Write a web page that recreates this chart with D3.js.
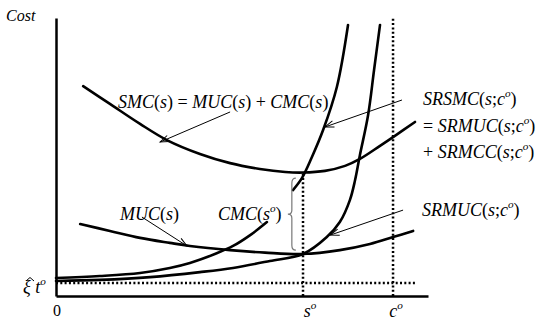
<!DOCTYPE html>
<html>
<head>
<meta charset="utf-8">
<script src="https://cdn.jsdelivr.net/npm/d3@7"></script>
<style>
  body { margin: 0; background: #fff; }
  svg { display: block; }
</style>
</head>
<body>
<svg id="chart" width="539" height="321"></svg>
<script>
// curves (x: output s, y: cost; both 0..100)
var smc = [[7.3, 75.5], [14.5, 69.1], [22.6, 61.9], [29.8, 56.1], [38.7, 51.1], [46.8, 47.8],
  [54.8, 45.7], [61.6, 44.6], [66.4, 44.4], [72.3, 45.0], [77.7, 46.8], [81.7, 49.3],
  [87.1, 54.0], [91.1, 57.6], [96.5, 62.6]];
var muc = [[6.5, 25.9], [14.5, 23.4], [22.6, 20.9], [30.6, 19.1], [36.0, 18.0], [46.8, 16.5],
  [56.2, 15.6], [66.4, 15.1], [76.3, 16.5], [84.4, 18.7], [90.6, 21.2], [96.0, 23.4]];
var cmc = [[0, 6.5], [11.8, 7.2], [22.6, 8.3], [30.6, 10.1], [36.0, 11.9], [42.7, 15.1],
  [47.6, 18.0], [52.2, 21.9], [56.7, 26.6]];
var srsmc = [[63.7, 38.1], [66.1, 42.4], [68.8, 50.0], [71.8, 59.7], [75.5, 75.2], [78.5, 97.5]];
var srmuc = [[0, 5.4], [11.8, 5.8], [25.3, 6.8], [38.7, 8.6], [47.6, 10.1], [57.5, 12.6],
  [66.4, 15.1], [72.8, 21.2], [76.3, 26.6], [79.0, 34.5], [80.4, 41.7], [81.7, 50.7],
  [83.9, 65.1], [85.5, 81.3], [87.1, 97.5]];

// reference levels
var sO = 66.4, cO = 90.6, xiT = 4.7, smcAtSO = 44.4;
var brace = [63.4, 42.4, 16.5];  // x, top, bottom  (CMC(s°) gap)

// arrows: [from, to]
var arrows = [
  [[46.8, 66.2], [28.0, 55.4]],
  [[93.0, 70.5], [72.3, 60.8]],
  [[93.3, 30.9], [73.7, 21.9]],
  [[23.1, 28.4], [35.2, 18.0]]
];

var FONT = '"Liberation Serif", "DejaVu Serif", "Times New Roman", serif';

var svg = d3.select('#chart');
var x = d3.scaleLinear().domain([0, 100]).range([56, 428]);
var y = d3.scaleLinear().domain([0, 100]).range([296, 18]);

svg.append('rect').attr('width', 539).attr('height', 321).attr('fill', '#fff');

svg.append('defs').append('marker')
  .attr('id', 'head')
  .attr('markerUnits', 'userSpaceOnUse')
  .attr('viewBox', '-10 -5 12 10')
  .attr('markerWidth', 12).attr('markerHeight', 10)
  .attr('refX', 0).attr('refY', 0)
  .attr('orient', 'auto')
  .append('path')
  .attr('d', 'M-9,-3.2L0,0L-9,3.2')
  .attr('fill', 'none').attr('stroke', '#000').attr('stroke-width', 1);

// axes, no ticks
svg.append('g').attr('transform', 'translate(0,' + y(0) + ')')
  .call(d3.axisBottom(x).tickValues([]).tickSizeOuter(0));
svg.append('g').attr('transform', 'translate(' + x(0) + ',0)')
  .call(d3.axisLeft(y).tickValues([]).tickSizeOuter(0));
svg.selectAll('.domain').attr('stroke', '#000').attr('stroke-width', 2.5);

// dotted guides
var dotted = function (x1, y1, x2, y2) {
  svg.append('line')
    .attr('x1', x(x1)).attr('y1', y(y1)).attr('x2', x(x2)).attr('y2', y(y2))
    .attr('stroke', '#000').attr('stroke-width', 2.5).attr('stroke-dasharray', '2,2.3');
};
dotted(0, xiT, 97, xiT);
dotted(sO, 0, sO, smcAtSO);
dotted(cO, 0, cO, 100.4);

// curves
var line = d3.line()
  .x(function (d) { return x(d[0]); })
  .y(function (d) { return y(d[1]); })
  .curve(d3.curveCatmullRom.alpha(0.5));

[smc, muc, cmc, srsmc, srmuc].forEach(function (c) {
  svg.append('path').datum(c)
    .attr('d', line)
    .attr('fill', 'none').attr('stroke', '#000').attr('stroke-width', 2.6)
    .attr('stroke-linecap', 'round');
});

// arrows
svg.selectAll('.arrow').data(arrows).enter().append('line')
  .attr('class', 'arrow')
  .attr('x1', function (d) { return x(d[0][0]); })
  .attr('y1', function (d) { return y(d[0][1]); })
  .attr('x2', function (d) { return x(d[1][0]); })
  .attr('y2', function (d) { return y(d[1][1]); })
  .attr('stroke', '#000').attr('stroke-width', 1)
  .attr('marker-end', 'url(#head)');

// brace
var bx = x(brace[0]), bt = y(brace[1]), bb = y(brace[2]), bm = (bt + bb) / 2;
svg.append('path')
  .attr('d', 'M' + (bx + 4) + ',' + bt + ' Q' + bx + ',' + bt + ' ' + bx + ',' + (bt + 5) +
    ' L' + bx + ',' + (bm - 4) + ' Q' + bx + ',' + bm + ' ' + (bx - 4) + ',' + bm +
    ' Q' + bx + ',' + bm + ' ' + bx + ',' + (bm + 4) +
    ' L' + bx + ',' + (bb - 5) + ' Q' + bx + ',' + bb + ' ' + (bx + 4) + ',' + bb)
  .attr('fill', 'none').attr('stroke', '#777').attr('stroke-width', 1.2);

// math-style text: letters italic, ° as superscript o
function mathText(str, px, py, size, anchor) {
  var t = svg.append('text')
    .attr('x', px).attr('y', py)
    .attr('font-size', size)
    .attr('text-anchor', anchor || 'start')
    .style('font-family', FONT)
    .style('white-space', 'pre');
  var runs = [];
  Array.from(str).forEach(function (ch) {
    var kind = ch === '\u00B0' ? 'sup' : (/[A-Za-z\u03BE]/.test(ch) ? 'it' : 'up');
    var last = runs[runs.length - 1];
    if (last && last.kind === kind && kind !== 'sup') last.s += ch;
    else runs.push({ kind: kind, s: ch });
  });
  var up = false;
  runs.forEach(function (r) {
    var ts = t.append('tspan').style('font-family', FONT)
      .text(r.kind === 'sup' ? 'o' : r.s);
    if (r.kind !== 'up') ts.style('font-style', 'italic');
    if (r.kind === 'sup') {
      ts.attr('font-size', size * 0.62).attr('dy', -size * 0.42);
      up = true;
    } else if (up) {
      ts.attr('dy', size * 0.42);
      up = false;
    }
  });
  return t;
}

mathText('Cost', 6, 21, 16);
mathText('SMC(s) = MUC(s) + CMC(s)', 118, 108, 18);
mathText('SRSMC(s;c\u00B0)', 423, 105, 18);
mathText('= SRMUC(s;c\u00B0)', 423, 132, 18);
mathText('+ SRMCC(s;c\u00B0)', 423, 158, 18);
mathText('SRMUC(s;c\u00B0)', 422, 216, 18);
mathText('MUC(s)', 120, 220, 18);
mathText('CMC(s\u00B0)', 218, 220, 18);
mathText('\u03BE t\u00B0', 23, 293, 18);
// hat over xi
svg.append('path').attr('d', 'M26,281 L30,277.5 L34,281')
  .attr('fill', 'none').attr('stroke', '#000').attr('stroke-width', 1);
mathText('0', x(0) + 1, 316, 16, 'middle');
mathText('s\u00B0', x(sO) + 7, 317, 18, 'middle');
mathText('c\u00B0', x(cO) + 3, 317, 18, 'middle');
</script>
</body>
</html>
